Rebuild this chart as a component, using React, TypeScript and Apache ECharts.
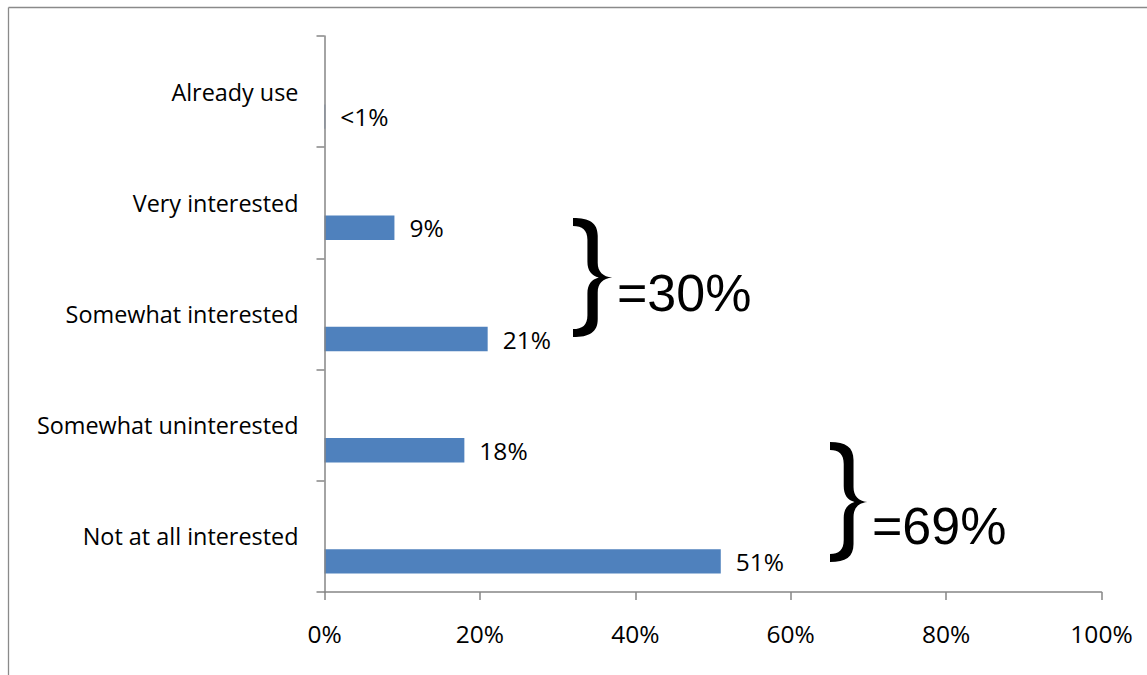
import React, { useEffect, useRef } from "react";
import * as echarts from "echarts";

// Survey answers, listed from the bottom of the chart upwards
const categories = [
  "Not at all interested",
  "Somewhat uninterested",
  "Somewhat interested",
  "Very interested",
  "Already use",
];
const shares = [51, 18, 21, 9, 0.1];
const shareLabels = ["51%", "18%", "21%", "9%", "<1%"];
const axisMin = 0;
const axisMax = 100;
const axisStep = 20;

// Grouped totals shown beside the braces
const interestedTotal = "=30%";
const uninterestedTotal = "=69%";

const BRACE_PATH =
  "M0 0 C16 0 24 5 24 18 L24 45 C24 54 29 59 38 60 C29 61 24 66 24 75 L24 102 " +
  "C24 115 16 120 0 120 L0 112 C9 112 14 108 14 98 L14 76 C14 67 18 62 25 60 " +
  "C18 58 14 53 14 44 L14 22 C14 12 9 8 0 8 Z";

let braceRegistered = false;
function ensureBrace() {
  if (braceRegistered) return;
  echarts.graphic.registerShape("brace", echarts.graphic.extendPath(BRACE_PATH, {}) as any);
  braceRegistered = true;
}

const LABEL_FONT = "'Open Sans', 'Noto Sans', sans-serif";
const AXIS_GREY = "#868686";

export default function App() {
  const ref = useRef<HTMLDivElement>(null);

  useEffect(() => {
    if (!ref.current) return;
    ensureBrace();
    const chart = echarts.init(ref.current, undefined, { renderer: "svg" });

    chart.setOption({
      animation: false,
      backgroundColor: "#ffffff",
      grid: { left: 324.5, right: 45.5, top: 36, bottom: 83, containLabel: false },
      xAxis: {
        type: "value",
        min: axisMin,
        max: axisMax,
        interval: axisStep,
        axisLine: { show: true, lineStyle: { color: AXIS_GREY, width: 1.5 } },
        axisTick: { show: true, inside: false, length: 8, lineStyle: { color: AXIS_GREY, width: 1.5 } },
        splitLine: { show: false },
        axisLabel: {
          formatter: "{value}%",
          color: "#000",
          fontFamily: LABEL_FONT,
          fontSize: 24.5,
          margin: 29,
        },
      },
      yAxis: {
        type: "category",
        data: categories,
        z: 3,
        axisLine: { show: true, lineStyle: { color: AXIS_GREY, width: 1.5 } },
        axisTick: { show: true, inside: false, length: 8, lineStyle: { color: AXIS_GREY, width: 1.5 } },
        splitLine: { show: false },
        axisLabel: {
          color: "#000",
          fontFamily: LABEL_FONT,
          fontSize: 23.4,
          margin: 26,
        },
      },
      series: [
        {
          // empty companion series: keeps each bar in the lower half of its band
          type: "bar",
          name: "spacer",
          data: categories.map(() => "-"),
          barWidth: 24.4,
          barGap: "105%",
          silent: true,
        },
        {
          type: "bar",
          name: "share",
          data: shares,
          barWidth: 24.4,
          barGap: "105%",
          itemStyle: { color: "#4F81BD" },
          label: {
            show: true,
            position: "right",
            distance: 15,
            color: "#000",
            fontFamily: LABEL_FONT,
            fontSize: 24.5,
            formatter: (p: any) => shareLabels[p.dataIndex],
          },
        },
      ],
      graphic: [
        {
          type: "line",
          shape: { x1: 8.5, y1: 7.5, x2: 8.5, y2: 700 },
          style: { stroke: "#8a8a8a", lineWidth: 1.3 },
        },
        {
          type: "line",
          shape: { x1: 8.5, y1: 7.5, x2: 1160, y2: 7.5 },
          style: { stroke: "#8a8a8a", lineWidth: 1.3 },
        },
        {
          type: "brace",
          x: 573,
          y: 218,
          scaleX: 1.03,
          scaleY: 119 / 120,
          style: { fill: "#000" },
        },
        {
          type: "text",
          x: 617,
          y: 293,
          style: {
            text: interestedTotal,
            font: "52px 'Liberation Sans', Arial, sans-serif",
            fill: "#000",
            textVerticalAlign: "middle",
            verticalAlign: "middle",
          },
        },
        {
          type: "brace",
          x: 830,
          y: 442,
          scaleX: 0.98,
          scaleY: 1,
          style: { fill: "#000" },
        },
        {
          type: "text",
          x: 872,
          y: 526,
          style: {
            text: uninterestedTotal,
            font: "52px 'Liberation Sans', Arial, sans-serif",
            fill: "#000",
            textVerticalAlign: "middle",
            verticalAlign: "middle",
          },
        },
      ],
    });

    return () => chart.dispose();
  }, []);

  return (
    <div
      ref={ref}
      style={{ position: "fixed", left: 0, top: 0, width: 1147, height: 675, background: "#fff" }}
    />
  );
}
